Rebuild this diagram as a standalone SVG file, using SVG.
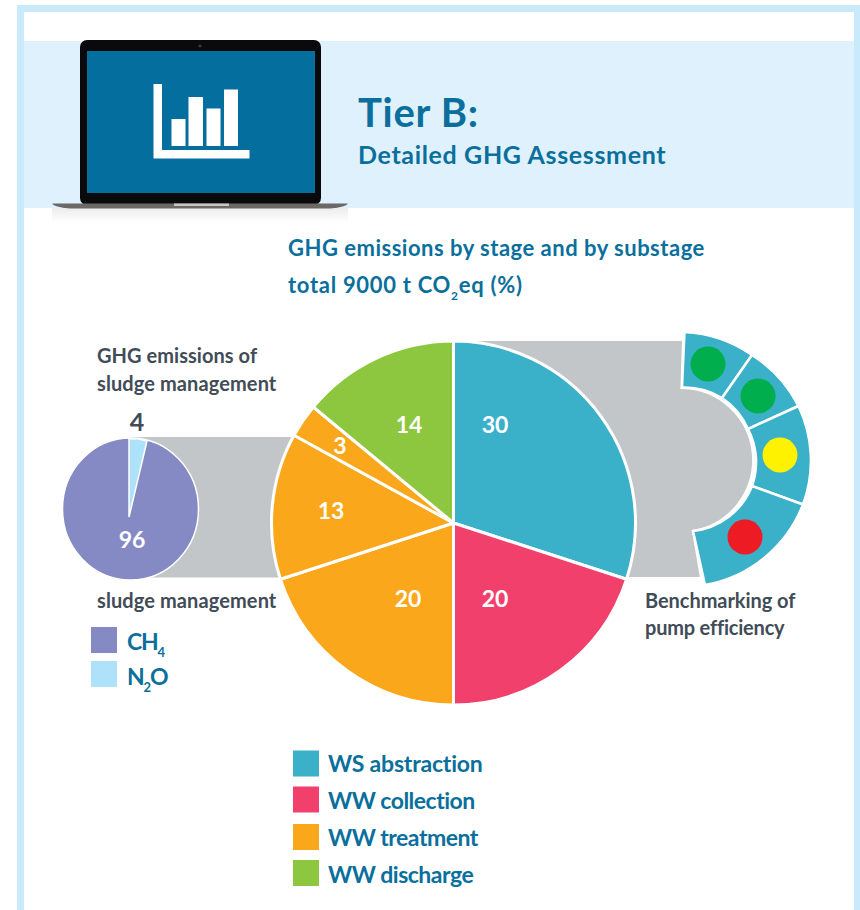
<svg xmlns="http://www.w3.org/2000/svg" width="860" height="910" viewBox="0 0 860 910">
<defs>
<linearGradient id="shadow" x1="0" y1="0" x2="0" y2="1"><stop offset="0" stop-color="#ececed"/><stop offset="1" stop-color="#ffffff"/></linearGradient>
</defs>
<style>
text{font-family:"Lato","Noto Sans","Liberation Sans",sans-serif;font-weight:700;font-variant-ligatures:none}
.blue{fill:#0a6f9c}
.dark{fill:#414c57;font-size:20px}
.num{fill:#ffffff;font-size:23px;text-anchor:middle}
.leg{fill:#0a6f9c;font-size:23px;letter-spacing:-0.5px}
.sub{fill:#0a6f9c;font-size:22px;letter-spacing:0.5px}
.sl{stroke:#ffffff;stroke-width:3;stroke-linejoin:round}
.fan{fill:#3ab0c9;stroke:#ffffff;stroke-width:2.500}
</style>
<rect id="frame" x="20.500" y="8.500" width="837" height="920" fill="#ffffff" stroke="#c9eafa" stroke-width="7"/>
<rect id="band" x="24" y="41" width="830" height="167" fill="#dff1fc"/>
<g id="laptop">
<rect x="52" y="208" width="296" height="14" fill="url(#shadow)"/>
<rect x="80" y="40" width="241" height="165" rx="7" fill="#0a0a0c"/>
<rect x="87" y="51" width="228" height="142" fill="#046f9e"/>
<circle cx="200" cy="46" r="1.500" fill="#3a3a3a"/>
<path d="M52 203.500H348Q346 207 330 208.500H70Q54 207 52 203.500Z" fill="#6b6866"/>
<rect x="174" y="203.500" width="55" height="2.500" fill="#c9c7c5"/>
<g fill="#ffffff">
<path d="M153.500 84H162V150H249.500V158.500H153.500Z"/>
<rect x="171.500" y="119" width="14" height="27"/>
<rect x="188.500" y="97" width="14.500" height="49"/>
<rect x="206.500" y="108.500" width="14" height="37.500"/>
<rect x="224" y="89.500" width="14" height="56.500"/>
</g>
</g>
<g id="title">
<text class="blue" x="358" y="127" font-size="40" letter-spacing="0.7">Tier B:</text>
<text class="blue" x="358" y="164" font-size="25" letter-spacing="0.65">Detailed GHG Assessment</text>
<text class="sub" x="288" y="256">GHG emissions by stage and by substage</text>
<text class="sub" x="288" y="293" style="letter-spacing:0.7px">total 9000 t CO<tspan font-size="12" dy="7">2</tspan><tspan dy="-7">eq (%)</tspan></text>
</g>
<g id="connectors">
<path d="M453 340H683L681.500 388A72 72 0 0 1 693 531L701 578H627Z" fill="#c3c6c9" stroke="#ffffff" stroke-width="2"/>
<rect x="130" y="437" width="175" height="140.500" fill="#c3c6c9"/>
</g>
<g id="main-pie">
<path class="sl" fill="#3ab0c9" d="M453.500 523V341A182 182 0 0 1 626.600 579.200Z"/>
<path class="sl" fill="#f2406c" d="M453.500 523L626.600 579.200A182 182 0 0 1 453.500 705Z"/>
<path class="sl" fill="#fba71b" d="M453.500 523V705A182 182 0 0 1 280.400 579.200Z"/>
<path class="sl" fill="#fba71b" d="M453.500 523L280.400 579.200A182 182 0 0 1 294 435.300Z"/>
<path class="sl" fill="#fba71b" d="M453.500 523L294 435.300A182 182 0 0 1 313.300 407Z"/>
<path class="sl" fill="#8dc63f" d="M453.500 523L313.300 407A182 182 0 0 1 453.500 341Z"/>
<text class="num" x="495" y="433">30</text>
<text class="num" x="495" y="607">20</text>
<text class="num" x="408" y="607">20</text>
<text class="num" x="331" y="519">13</text>
<text class="num" x="340" y="454">3</text>
<text class="num" x="409" y="433">14</text>
</g>
<g id="fan">
<path class="fan" d="M684.500 332A129 129 0 0 1 752 355L722 398A72 72 0 0 0 682 387.500Z"/>
<path class="fan" d="M752 355A129 129 0 0 1 798.500 406L748 429A72 72 0 0 0 722 398Z"/>
<path class="fan" d="M798.500 406A126 126 0 0 1 803 504.500L752 486A72 72 0 0 0 748 429Z"/>
<path class="fan" d="M803 504.500A129 129 0 0 1 705 585L693 531A72 72 0 0 0 752 486Z"/>
<circle cx="708" cy="364" r="17.500" fill="#00ae4d"/>
<circle cx="758" cy="396" r="17.500" fill="#00ae4d"/>
<circle cx="780" cy="455" r="17.500" fill="#fff200"/>
<circle cx="745" cy="537" r="17.500" fill="#ed1c24"/>
</g>
<g id="small-pie">
<ellipse cx="130.500" cy="509" rx="68" ry="71" fill="#868ac4" stroke="#ffffff" stroke-width="1.500"/>
<path d="M129 517V438.500Q139 438.500 147 441Z" fill="#aee2fb" stroke="#ffffff" stroke-width="1.500"/>
<text class="num" x="132" y="548">96</text>
<text x="137" y="431" font-size="25" fill="#414c57" text-anchor="middle">4</text>
</g>
<g id="labels">
<text class="dark" x="97" y="363" letter-spacing="0.05">GHG emissions of</text>
<text class="dark" x="97" y="391" letter-spacing="0.1">sludge management</text>
<text class="dark" x="97" y="608" letter-spacing="0.1">sludge management</text>
<text class="dark" x="645" y="608" letter-spacing="-0.05">Benchmarking of</text>
<text class="dark" x="645" y="635" letter-spacing="-0.2">pump efficiency</text>
</g>
<g id="legend-gas">
<rect x="91" y="627" width="26" height="26" fill="#868ac4"/>
<text class="leg" x="127" y="650" style="letter-spacing:-1.2px">CH<tspan font-size="13" dy="7">4</tspan></text>
<rect x="91" y="661" width="26" height="26" fill="#aee2fb"/>
<text class="leg" x="127" y="685" style="letter-spacing:-1.2px">N<tspan font-size="13" dy="7">2</tspan><tspan dy="-7">O</tspan></text>
</g>
<g id="legend-stage">
<rect x="293" y="750.500" width="26" height="26" fill="#3ab0c9"/>
<text class="leg" x="328" y="772" style="letter-spacing:-0.2px">WS abstraction</text>
<rect x="293" y="786.500" width="26" height="26" fill="#f2406c"/>
<text class="leg" x="328" y="809">WW collection</text>
<rect x="293" y="824" width="26" height="26" fill="#fba71b"/>
<text class="leg" x="328" y="846">WW treatment</text>
<rect x="293" y="860" width="26" height="26" fill="#8dc63f"/>
<text class="leg" x="328" y="883">WW discharge</text>
</g>
</svg>
